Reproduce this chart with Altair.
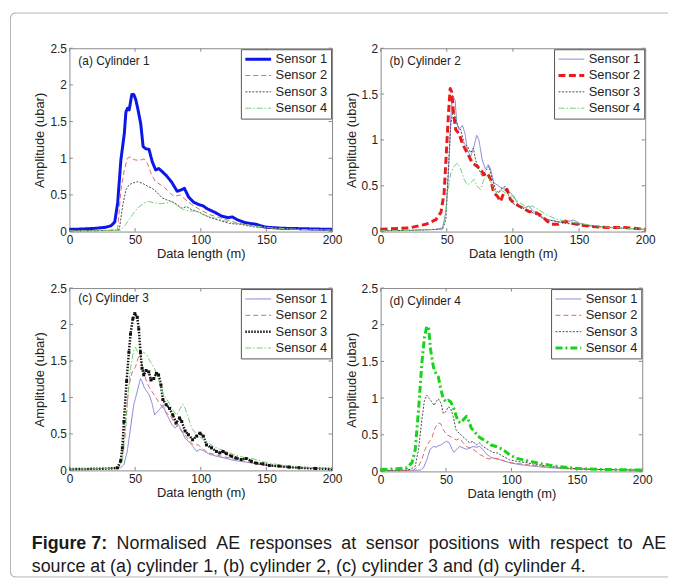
import altair as alt
import pandas as pd

FONT = "Liberation Sans"
SENSORS = ["Sensor 1", "Sensor 2", "Sensor 3", "Sensor 4"]
X_TICKS = [0, 50, 100, 150, 200]
Y_TICKS_25 = [0, 0.5, 1, 1.5, 2, 2.5]
Y_TICKS_2 = [0, 0.5, 1, 1.5, 2]

# ---------------- (a) Cylinder 1 ----------------
A1_X = [0, 10, 20, 28, 31.7, 34.5, 36.7, 39.2, 41.8, 43, 44.2, 45.5, 47.5, 49, 50.5, 52, 54.3, 56.1, 58.1, 60.6, 63.1, 65.7, 68, 70.5, 74, 78, 82, 85.5, 87.5, 90.8, 94.6, 98.3, 101.8, 105, 111, 116, 121, 124, 128, 134, 141.8, 149.3, 162, 175, 200]
A1_Y = [0.03, 0.035, 0.045, 0.06, 0.08, 0.13, 0.39, 0.98, 1.34, 1.63, 1.68, 1.66, 1.87, 1.87, 1.80, 1.68, 1.47, 1.16, 1.13, 1.12, 0.95, 0.84, 0.86, 0.82, 0.76, 0.67, 0.55, 0.57, 0.59, 0.47, 0.40, 0.37, 0.35, 0.31, 0.26, 0.21, 0.19, 0.20, 0.16, 0.12, 0.10, 0.06, 0.045, 0.04, 0.03]
A2_X = [0, 20, 34, 36.7, 39.2, 41.8, 44.2, 46.7, 49.2, 53, 56.8, 59.4, 62, 65.5, 69.3, 74.3, 79.3, 84.3, 88, 93, 99.3, 107, 114.5, 126.8, 139, 149, 170, 200]
A2_Y = [0.01, 0.012, 0.02, 0.03, 0.57, 0.84, 1.0, 1.02, 0.98, 0.97, 0.99, 0.93, 0.80, 0.68, 0.64, 0.57, 0.48, 0.50, 0.44, 0.37, 0.30, 0.23, 0.19, 0.12, 0.08, 0.05, 0.03, 0.02]
A3_X = [0, 20, 36, 38, 40.5, 43, 45.5, 48, 51.8, 55.5, 59.4, 63, 67, 70.5, 74.3, 78, 81.8, 85.5, 89.3, 93, 99.3, 107, 114.5, 122, 130, 140, 150, 170, 200]
A3_Y = [0.01, 0.012, 0.02, 0.03, 0.35, 0.57, 0.64, 0.66, 0.68, 0.66, 0.62, 0.59, 0.53, 0.46, 0.43, 0.41, 0.37, 0.32, 0.34, 0.30, 0.26, 0.19, 0.15, 0.11, 0.10, 0.065, 0.05, 0.03, 0.02]
A4_X = [0, 20, 37, 39, 43, 48, 51.8, 56.8, 60.5, 64.5, 69.3, 74.3, 78, 81.8, 86.8, 91.8, 96.8, 101.8, 109.4, 117, 124.5, 132, 141.8, 154.5, 175, 200]
A4_Y = [0.01, 0.012, 0.015, 0.02, 0.10, 0.23, 0.32, 0.39, 0.41, 0.39, 0.38, 0.39, 0.41, 0.35, 0.30, 0.28, 0.28, 0.23, 0.19, 0.15, 0.12, 0.10, 0.075, 0.05, 0.03, 0.02]

# ---------------- (b) Cylinder 2 ----------------
B1_X = [0, 20, 41.8, 46.8, 49.3, 51.3, 53.1, 54.3, 56.3, 57.6, 59.3, 61.8, 63.8, 65.6, 68.1, 70.6, 72.6, 74.3, 76.8, 79.3, 81.4, 83.1, 85.6, 88.1, 90.6, 94.4, 98.1, 100.6, 104.4, 109.4, 111.9, 115.6, 120.6, 126.9, 134.4, 139.4, 145.7, 150.7, 159.5, 172, 185, 200]
B1_Y = [0.01, 0.012, 0.025, 0.04, 0.21, 0.64, 1.25, 1.49, 1.43, 1.18, 1.11, 1.16, 1.07, 0.89, 0.82, 0.93, 1.05, 1.0, 0.78, 0.68, 0.73, 0.68, 0.53, 0.51, 0.48, 0.46, 0.42, 0.39, 0.28, 0.26, 0.28, 0.22, 0.17, 0.13, 0.105, 0.10, 0.126, 0.09, 0.06, 0.045, 0.035, 0.02]
B2_X = [0, 21.8, 34.3, 41.8, 45.6, 48, 49.8, 51.3, 52.6, 53.8, 55.1, 56.8, 59.3, 61.8, 64.3, 66.8, 69.3, 73.1, 75.6, 78.1, 80.6, 83.1, 85.6, 88.1, 90.6, 93.1, 95.6, 98.1, 101.9, 106.9, 111.9, 116.9, 121.9, 125.7, 129.4, 134.4, 139.4, 144.4, 152, 159.5, 172, 184.5, 200]
B2_Y = [0.025, 0.04, 0.08, 0.13, 0.21, 0.42, 0.89, 1.29, 1.56, 1.52, 1.29, 1.11, 1.07, 0.96, 0.89, 0.82, 0.75, 0.71, 0.68, 0.62, 0.64, 0.57, 0.42, 0.39, 0.33, 0.42, 0.46, 0.35, 0.30, 0.26, 0.22, 0.21, 0.17, 0.115, 0.08, 0.08, 0.115, 0.09, 0.07, 0.055, 0.045, 0.045, 0.025]
B3_X = [0, 20, 46.8, 49.3, 51.3, 53.1, 54.8, 56.8, 58.8, 60.6, 63.1, 65.6, 68.1, 70.1, 71.8, 74.3, 76.8, 79.3, 81.9, 84.4, 86.9, 89.4, 91.9, 94.4, 96.9, 99.4, 104.4, 109.4, 114.4, 119.4, 124.4, 131.9, 139.4, 146.9, 159.5, 175, 200]
B3_Y = [0.01, 0.012, 0.025, 0.13, 0.71, 1.18, 1.32, 1.22, 1.14, 1.11, 0.96, 0.93, 0.86, 0.91, 0.78, 0.68, 0.60, 0.66, 0.71, 0.57, 0.46, 0.42, 0.48, 0.49, 0.39, 0.31, 0.28, 0.24, 0.21, 0.17, 0.13, 0.115, 0.09, 0.08, 0.06, 0.045, 0.025]
B4_X = [0, 20, 46.8, 48.8, 50.6, 53.1, 55.6, 58.1, 60.6, 63.1, 65.6, 68.1, 70.6, 73.1, 75.6, 78.1, 80.6, 83.1, 85.6, 88.1, 90.6, 94.4, 98.1, 101.9, 106.9, 111.9, 114.4, 119.4, 124.4, 131.9, 139.4, 149.4, 159.5, 172, 200]
B4_Y = [0.01, 0.012, 0.025, 0.13, 0.42, 0.64, 0.71, 0.75, 0.68, 0.57, 0.51, 0.53, 0.57, 0.49, 0.46, 0.57, 0.60, 0.55, 0.46, 0.42, 0.46, 0.42, 0.40, 0.35, 0.30, 0.26, 0.28, 0.24, 0.19, 0.14, 0.115, 0.09, 0.07, 0.047, 0.025]

# ---------------- (c) Cylinder 3 ----------------
C1_X = [0, 20, 39, 41.5, 44, 46.5, 49, 51.6, 54.1, 55.3, 57.1, 59.1, 60.9, 62.9, 64.9, 67.2, 69.2, 71.2, 73, 75.5, 78, 80.5, 83, 85.5, 88.1, 90.6, 93.1, 96.9, 99.4, 103.1, 106.9, 111.9, 118.2, 124.5, 132.1, 139.6, 149.7, 162, 175, 200]
C1_Y = [0.02, 0.022, 0.036, 0.08, 0.26, 0.58, 0.90, 1.08, 1.26, 1.22, 1.13, 1.08, 1.03, 0.92, 0.76, 0.81, 0.85, 0.90, 0.81, 0.72, 0.63, 0.58, 0.63, 0.54, 0.44, 0.40, 0.35, 0.26, 0.29, 0.26, 0.22, 0.195, 0.17, 0.14, 0.12, 0.10, 0.07, 0.05, 0.036, 0.023]
C2_X = [0, 20, 37.7, 40.3, 42.8, 45.3, 47.8, 50.3, 52.1, 53.6, 55.3, 57.9, 60.4, 62.9, 65.4, 67.9, 70.4, 73, 75.5, 78, 80.5, 83, 85.5, 88.1, 90.6, 94.3, 98.1, 101.9, 105.7, 110.7, 115.7, 122, 129.6, 139.6, 149.7, 162.3, 175, 200]
C2_Y = [0.02, 0.022, 0.036, 0.17, 0.67, 1.17, 1.35, 1.42, 1.53, 1.60, 1.44, 1.26, 1.15, 1.08, 1.01, 0.94, 0.88, 0.81, 0.76, 0.72, 0.63, 0.58, 0.54, 0.49, 0.42, 0.35, 0.35, 0.29, 0.24, 0.22, 0.195, 0.17, 0.14, 0.10, 0.07, 0.05, 0.036, 0.023]
C3_X = [0, 10, 20, 30, 36.5, 39, 40.3, 41.5, 43.5, 45.3, 46.5, 48.3, 49.8, 51.6, 52.8, 54.1, 55.3, 56.6, 58.4, 60.4, 62.1, 64.2, 66.2, 67.9, 69.7, 71.2, 73.7, 76.2, 78.7, 81.3, 83.8, 85.5, 88.1, 90.6, 93.8, 96.9, 99.4, 101.9, 104.4, 108.2, 111.9, 114.5, 117, 119.5, 123.3, 127, 130.8, 134.6, 138.4, 142.1, 147.2, 152.2, 159.7, 167.3, 174.8, 187.4, 200]
C3_Y = [0.02, 0.02, 0.022, 0.025, 0.035, 0.13, 0.31, 0.67, 1.22, 1.62, 1.87, 2.08, 2.15, 2.10, 1.94, 1.62, 1.40, 1.31, 1.37, 1.35, 1.24, 1.26, 1.33, 1.31, 1.17, 0.97, 0.90, 0.85, 0.76, 0.65, 0.72, 0.67, 0.54, 0.49, 0.42, 0.47, 0.51, 0.47, 0.35, 0.31, 0.26, 0.24, 0.26, 0.23, 0.195, 0.17, 0.15, 0.163, 0.127, 0.10, 0.09, 0.068, 0.059, 0.045, 0.036, 0.027, 0.018]
C4_X = [0, 20, 37.7, 40.3, 42.8, 44.5, 46.5, 48.6, 50.3, 52.1, 54.1, 56.6, 59.1, 61.6, 64.2, 66.7, 69.2, 71.7, 74.2, 76.7, 79.2, 81.8, 84.3, 86.3, 88.1, 90.6, 93.1, 96.9, 100.6, 104.4, 109.4, 114.5, 119.5, 124.5, 129.6, 134.6, 139.6, 147.2, 154.7, 164.8, 175, 187, 200]
C4_Y = [0.02, 0.022, 0.036, 0.13, 0.54, 1.03, 1.40, 1.62, 1.69, 1.62, 1.58, 1.62, 1.58, 1.49, 1.42, 1.31, 1.17, 1.03, 0.97, 0.90, 0.81, 0.76, 0.85, 0.91, 0.85, 0.72, 0.58, 0.49, 0.44, 0.40, 0.33, 0.29, 0.26, 0.22, 0.195, 0.17, 0.16, 0.12, 0.09, 0.068, 0.05, 0.036, 0.027]

# ---------------- (d) Cylinder 4 ----------------
D1_X = [0, 20, 30.3, 32.8, 35.3, 37.8, 40.4, 42.4, 44.1, 46.2, 48.4, 50.4, 52.5, 54.2, 56, 58, 60.5, 63.1, 65.6, 68.1, 70.6, 73.1, 75.7, 78.2, 80.7, 84.5, 88.3, 93.3, 98.4, 105.9, 116, 128.6, 143.8, 164, 200]
D1_Y = [0.01, 0.012, 0.018, 0.05, 0.16, 0.30, 0.34, 0.33, 0.35, 0.36, 0.39, 0.41, 0.39, 0.32, 0.26, 0.30, 0.34, 0.32, 0.30, 0.32, 0.34, 0.33, 0.34, 0.30, 0.24, 0.19, 0.17, 0.15, 0.12, 0.094, 0.072, 0.05, 0.036, 0.027, 0.018]
D2_X = [0, 20, 25.2, 29, 31.5, 34, 36.6, 39.1, 41.6, 44.1, 45.9, 47.9, 50.4, 53, 55.5, 58, 60.5, 63.1, 65.6, 68.1, 70.6, 73.1, 75.7, 78.2, 80.7, 83.2, 87, 90.8, 94.6, 98.4, 103.4, 111, 121, 133.7, 148.8, 164, 200]
D2_Y = [0.01, 0.012, 0.018, 0.07, 0.16, 0.30, 0.39, 0.45, 0.59, 0.66, 0.65, 0.57, 0.50, 0.48, 0.45, 0.43, 0.45, 0.39, 0.34, 0.32, 0.30, 0.27, 0.23, 0.21, 0.18, 0.17, 0.18, 0.17, 0.14, 0.12, 0.11, 0.094, 0.072, 0.05, 0.036, 0.027, 0.018]
D3_X = [0, 20, 22.7, 26.5, 29, 31.5, 33.5, 35.3, 37.3, 39.1, 40.9, 42.4, 44.1, 46.2, 47.9, 49.7, 51.7, 53.5, 55.5, 57.5, 60, 62.5, 65.6, 68.1, 70.6, 73.1, 75.7, 78.2, 82, 85.8, 89.5, 93.3, 98.4, 103.4, 111, 118.5, 128.6, 138.7, 151.3, 164, 200]
D3_Y = [0.01, 0.02, 0.027, 0.07, 0.30, 0.70, 0.97, 1.04, 0.99, 0.95, 0.90, 0.95, 0.99, 0.93, 0.79, 0.81, 0.88, 0.86, 0.75, 0.57, 0.52, 0.48, 0.43, 0.39, 0.41, 0.36, 0.39, 0.34, 0.30, 0.26, 0.25, 0.21, 0.16, 0.14, 0.12, 0.094, 0.072, 0.05, 0.036, 0.027, 0.018]
D4_X = [0, 12.6, 20.2, 24, 26.5, 29, 31.5, 33.5, 35.3, 36.8, 38.3, 40.4, 42.4, 44.1, 46.2, 47.9, 50, 51.7, 53.5, 55.5, 57.5, 59.3, 61.3, 63.1, 65.6, 67.6, 69.4, 71.9, 74.4, 76.9, 80.7, 84.5, 88.3, 93.3, 98.4, 103.4, 108.4, 116, 123.6, 133.7, 143.8, 153.8, 169, 200]
D4_Y = [0.027, 0.036, 0.05, 0.12, 0.30, 0.84, 1.47, 1.83, 1.98, 1.94, 1.65, 1.42, 1.33, 1.29, 1.11, 0.99, 0.95, 0.97, 0.95, 0.88, 0.77, 0.68, 0.66, 0.70, 0.75, 0.68, 0.59, 0.54, 0.48, 0.45, 0.41, 0.36, 0.34, 0.30, 0.23, 0.18, 0.16, 0.13, 0.10, 0.072, 0.05, 0.036, 0.027, 0.018]

PANEL_LABELS = ["(a) Cylinder 1", "(b) Cylinder 2", "(c) Cylinder 3", "(d) Cylinder 4"]

CAPTION_BOLD = "Figure 7:"
CAPTION_WORDS = ["Normalised", "AE", "responses", "at", "sensor", "positions", "with", "respect", "to", "AE"]
CAPTION_LINE2 = "source at (a) cylinder 1, (b) cylinder 2, (c) cylinder 3 and (d) cylinder 4."
# page x of each justified word on caption line 1
CAPTION_BOLD_PX = 30
CAPTION_WORDS_PX = [115.6, 216.2, 249.8, 342.4, 367, 430.6, 511.2, 552.8, 621.4, 646]

# ---------------- styles ----------------
THIN = {"Sensor 1": "#7d7dd6", "Sensor 2": "#d86a6a", "Sensor 3": "#4a4a4a", "Sensor 4": "#6fcf6f"}
THIN_DASH = {"Sensor 1": [1, 0], "Sensor 2": [5, 3], "Sensor 3": [2, 1.5], "Sensor 4": [6, 2, 1.5, 2]}
BOX = "#8a8a8a"
TICK_LEN = 3.5


def long_df(series):
    rows = []
    for name, xs, ys in series:
        for xv, yv in zip(xs, ys):
            rows.append({"sensor": name, "x": xv, "y": yv})
    return pd.DataFrame(rows)


def panel(series, label, ymax, yticks, thick, thick_color, thick_width, thick_dash,
          w, h, label_y, extra_fn=None):
    df = long_df(series)
    colors = [thick_color if s == thick else THIN[s] for s in SENSORS]
    widths = [thick_width if s == thick else 1 for s in SENSORS]
    dashes = [thick_dash if s == thick else THIN_DASH[s] for s in SENSORS]
    xax = alt.Axis(values=X_TICKS, format="d", title="Data length (m)")
    yax = alt.Axis(values=yticks, format="~g", title="Amplitude (ubar)")
    xsc = alt.Scale(domain=[0, 200], nice=False)
    ysc = alt.Scale(domain=[0, ymax], nice=False)
    X = lambda: alt.X("x:Q", scale=xsc, axis=xax)
    Y = lambda: alt.Y("y:Q", scale=ysc, axis=yax)

    leg = alt.Legend(orient="top-right", offset=1, padding=3, strokeColor="#555555",
                     fillColor="white", labelFont=FONT, labelFontSize=13, labelColor="#222222",
                     symbolType="stroke", symbolSize=676, clipHeight=14, rowPadding=2.5, labelOffset=3)
    lines = alt.Chart(df).mark_line(strokeJoin="round").encode(
        x=X(), y=Y(),
        color=alt.Color("sensor:N", title=None, scale=alt.Scale(domain=SENSORS, range=colors), legend=leg),
        strokeDash=alt.StrokeDash("sensor:N", title=None, scale=alt.Scale(domain=SENSORS, range=dashes), legend=leg),
        strokeWidth=alt.StrokeWidth("sensor:N", title=None,
                                    scale=alt.Scale(type="ordinal", domain=SENSORS, range=widths), legend=leg),
    )
    # inward tick marks on all four sides (MATLAB box style)
    xt = alt.Chart(pd.DataFrame({"x": X_TICKS}))
    yt = alt.Chart(pd.DataFrame({"y": yticks}))
    tick_layers = [
        xt.mark_rule(color=BOX, strokeWidth=1).encode(x=X(), y=alt.value(h), y2=alt.value(h - TICK_LEN)),
        xt.mark_rule(color=BOX, strokeWidth=1).encode(x=X(), y=alt.value(0), y2=alt.value(TICK_LEN)),
        yt.mark_rule(color=BOX, strokeWidth=1).encode(y=Y(), x=alt.value(0), x2=alt.value(TICK_LEN)),
        yt.mark_rule(color=BOX, strokeWidth=1).encode(y=Y(), x=alt.value(w), x2=alt.value(w - TICK_LEN)),
    ]
    extra = extra_fn(X, Y) if extra_fn else []
    lab = alt.Chart(pd.DataFrame({"t": [label]})).mark_text(
        align="left", baseline="alphabetic", font=FONT, fontSize=12, color="#222222"
    ).encode(x=alt.value(9), y=alt.value(label_y), text="t:N")
    return alt.layer(*tick_layers, lines, *extra, lab).properties(width=w, height=h)


# ---------------- caption + frame (drawn inside panel (c), whose origin is at page x=68, y=286) --------
OX, OY = 68, 286
bold_df = pd.DataFrame({"w": [CAPTION_BOLD], "px": [CAPTION_BOLD_PX - OX]})
words_df = pd.DataFrame({"w": CAPTION_WORDS, "px": [p - OX for p in CAPTION_WORDS_PX]})
line2_df = pd.DataFrame({"w": [CAPTION_LINE2], "px": [CAPTION_BOLD_PX - OX]})

cap_style = dict(align="left", baseline="alphabetic", font=FONT, fontSize=18, color="#1a1a1a")
cap_bold = alt.Chart(bold_df).mark_text(fontWeight="bold", **cap_style).encode(
    x=alt.X("px:Q", scale=None, axis=None), y=alt.value(549 - OY), text="w:N")
cap_words = alt.Chart(words_df).mark_text(**cap_style).encode(
    x=alt.X("px:Q", scale=None, axis=None), y=alt.value(549 - OY), text="w:N")
cap_line2 = alt.Chart(line2_df).mark_text(**cap_style).encode(
    x=alt.X("px:Q", scale=None, axis=None), y=alt.value(573 - OY), text="w:N")

one = pd.DataFrame({"k": [0]})
FR = "#b4b4b4"
L, T, R, B = 8.5 - OX, 8.5 - OY, 672 - OX, 577.5 - OY
frame_left = alt.Chart(one).mark_rule(color=FR, strokeWidth=1).encode(
    x=alt.value(L), y=alt.value(T + 5), y2=alt.value(B - 5))
frame_top = alt.Chart(one).mark_rule(color=FR, strokeWidth=1).encode(
    x=alt.value(L + 5), x2=alt.value(R), y=alt.value(T))
frame_bottom = alt.Chart(one).mark_rule(color=FR, strokeWidth=1).encode(
    x=alt.value(L + 5), x2=alt.value(R), y=alt.value(B))
corner_tl = alt.Chart(one).mark_arc(radius=5, radius2=5, stroke=FR, strokeWidth=1, fillOpacity=0,
                                    theta=4.712389, theta2=6.283185).encode(
    x=alt.value(L + 5), y=alt.value(T + 5))
corner_bl = alt.Chart(one).mark_arc(radius=5, radius2=5, stroke=FR, strokeWidth=1, fillOpacity=0,
                                    theta=3.141593, theta2=4.712389).encode(
    x=alt.value(L + 5), y=alt.value(B - 5))


def c_extra(X, Y):
    pts = alt.Chart(pd.DataFrame({"x": C3_X, "y": C3_Y})).transform_filter(
        (alt.datum.x > 35) & (alt.datum.x < 195)
    ).mark_point(shape="square", filled=True, size=9, color="#111111", opacity=1).encode(x=X(), y=Y())
    return [pts, frame_left, frame_top, frame_bottom, corner_tl, corner_bl, cap_bold, cap_words, cap_line2]


pa = panel([("Sensor 1", A1_X, A1_Y), ("Sensor 2", A2_X, A2_Y), ("Sensor 3", A3_X, A3_Y), ("Sensor 4", A4_X, A4_Y)],
           PANEL_LABELS[0], 2.5, Y_TICKS_25, "Sensor 1", "#0b16e8", 3, [1, 0], 265, 185, 17)
pb = panel([("Sensor 1", B1_X, B1_Y), ("Sensor 2", B2_X, B2_Y), ("Sensor 3", B3_X, B3_Y), ("Sensor 4", B4_X, B4_Y)],
           PANEL_LABELS[1], 2, Y_TICKS_2, "Sensor 2", "#ee1a1a", 3, [7, 3.5], 267, 185, 17)
pc = panel([("Sensor 1", C1_X, C1_Y), ("Sensor 2", C2_X, C2_Y), ("Sensor 3", C3_X, C3_Y), ("Sensor 4", C4_X, C4_Y)],
           PANEL_LABELS[2], 2.5, Y_TICKS_25, "Sensor 3", "#111111", 2.5, [1.5, 1.5], 265, 184, 14,
           extra_fn=c_extra)
pd_ = panel([("Sensor 1", D1_X, D1_Y), ("Sensor 2", D2_X, D2_Y), ("Sensor 3", D3_X, D3_Y), ("Sensor 4", D4_X, D4_Y)],
            PANEL_LABELS[3], 2.5, Y_TICKS_25, "Sensor 4", "#18d418", 3, [7, 3, 2, 3], 264, 185, 17)

RES_SCALE = dict(x="independent", y="independent", color="independent",
                 strokeDash="independent", strokeWidth="independent")
RES_LEG = dict(color="independent", strokeDash="independent", strokeWidth="independent")

chart = alt.concat(pa, pb, pc, pd_, columns=2, spacing={"row": 57, "column": 49}, bounds="flush").resolve_scale(
    **RES_SCALE).resolve_legend(**RES_LEG).properties(
    padding=0, background="white"
).configure_view(stroke=BOX, strokeWidth=1).configure_axis(
    domain=False, ticks=False, grid=False, labelFont=FONT, labelFontSize=12, labelColor="#222222",
    labelPadding=3, labelFlush=False, titleFont=FONT, titleFontSize=13, titleFontWeight="normal",
    titleColor="#222222"
).configure_axisX(titlePadding=2).configure_axisY(titlePadding=3)

chart.save("out.html", embed_options={"renderer": "svg", "actions": False})
